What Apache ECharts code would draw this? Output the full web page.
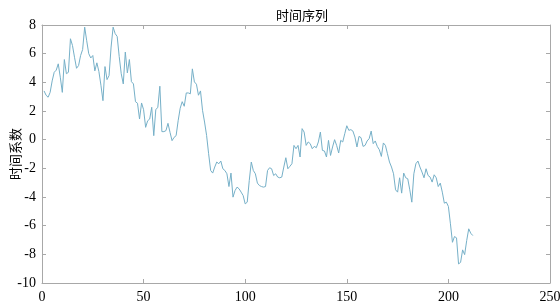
<!DOCTYPE html>
<html>
<head>
<meta charset="utf-8">
<script src="https://cdn.jsdelivr.net/npm/echarts@6/dist/echarts.min.js"></script>
<style>
  html, body { margin: 0; padding: 0; background: #fff; }
  #main { width: 560px; height: 306px; }
</style>
</head>
<body>
<div id="main"></div>
<script>
// time coefficient, sample 1..212
const coefA = [
  3.4, 3.1, 2.96, 3.3, 4.1, 4.7, 4.85, 5.29, 4.36, 3.3,
  5.59, 4.6, 4.7, 7.04, 6.57, 5.75, 4.98, 5.17, 5.87, 6.29,
  7.85, 6.9, 6.0, 5.7, 5.87, 4.8, 5.36, 4.75, 3.8, 2.72,
  5.1, 4.19, 4.47, 6.46, 7.85, 7.4, 7.2, 5.8, 4.6, 3.89,
  6.11, 4.66, 5.59, 4.05, 3.89, 2.65, 2.54, 1.44, 2.56, 2.09,
  0.86, 1.32, 1.44, 2.26, 0.28, 2.09, 2.26, 3.73, 0.56, 0.56,
  0.63, 1.14, 0.51, -0.07, 0.16, 0.28, 1.32, 2.19, 2.65, 2.33,
  3.26, 3.26, 3.2, 4.94
];
const coefB = [
  4.03, 3.87, 3.1, 3.4, 2.05, 1.23, 0.3, -0.98, -2.15, -2.33,
  -1.91, -1.56, -1.68, -1.49, -2.03, -2.15, -2.38, -3.27, -2.33, -4.01,
  -3.55, -3.31, -3.43, -3.66, -3.9, -4.48, -4.36, -2.85, -1.56, -2.15,
  -2.38, -3.03, -3.2, -3.27, -3.31, -3.27, -2.15, -1.96, -2.03, -2.5,
  -2.38, -2.61, -2.66, -2.61, -1.91, -1.26, -2.03, -1.86, -1.68, -0.4,
  -0.63, -0.4, -1.21, 0.77, 0.53, -0.4, -0.16, -0.28, -0.63, -0.47,
  -0.56, -0.16, 0.53, -0.75, -0.79, -1.21, -0.05, -1.1, -0.51, 0.0
];
const coefC = [
  -0.4, -0.93, -0.05, -0.16, 0.42, 0.97, 0.65, 0.7, 0.6, 0.18,
  -0.51, 0.23, 0.14, -0.47, -0.4, -0.09, 0.07, 0.6, -0.28, -0.09,
  -0.47, -0.7, -1.17, -0.23, -0.4, -0.98, -1.56, -1.91, -2.38, -3.5,
  -3.66, -2.66, -3.73, -2.33, -2.66, -2.73, -3.5, -4.36, -2.38, -1.68,
  -1.49, -1.91, -2.26, -2.66, -2.03, -2.5, -2.61, -2.96, -2.45, -2.66,
  -3.27, -3.03, -3.66, -4.43, -4.36, -4.66, -5.87, -7.16, -6.76, -6.85,
  -8.67, -8.56, -7.69, -8.02, -7.04, -6.22, -6.53, -6.69
];
const coef = coefA.concat(coefB, coefC);
const xTicks = [0, 50, 100, 150, 200, 250];
const yTicks = [-10, -8, -6, -4, -2, 0, 2, 4, 6, 8];

const chart = echarts.init(document.getElementById('main'));
const frame = '#a8a8a8';
const labelFont = { fontFamily: 'Liberation Serif', fontSize: 14, color: '#000' };

const baseX = {
  type: 'value',
  min: xTicks[0],
  max: xTicks[xTicks.length - 1],
  interval: 50,
  axisLine: { show: true, onZero: false, lineStyle: { color: frame, width: 1 } },
  axisTick: { show: true, inside: true, length: 4, lineStyle: { color: frame } },
  splitLine: { show: false }
};
const baseY = {
  type: 'value',
  min: yTicks[0],
  max: yTicks[yTicks.length - 1],
  interval: 2,
  axisLine: { show: true, onZero: false, lineStyle: { color: frame, width: 1 } },
  axisTick: { show: true, inside: true, length: 4, lineStyle: { color: frame } },
  splitLine: { show: false }
};

chart.setOption({
  animation: false,
  backgroundColor: '#fff',
  title: {
    text: '时间序列',
    left: 297,
    textAlign: 'center',
    top: 4,
    textStyle: { fontFamily: 'Noto Sans CJK SC', fontSize: 13, fontWeight: 'normal', color: '#000' }
  },
  grid: { left: 42, right: 10, top: 25, bottom: 23, outerBoundsMode: 'none' },
  xAxis: [
    Object.assign({}, baseX, {
      position: 'bottom',
      axisLabel: Object.assign({ margin: 7 }, labelFont)
    }),
    Object.assign({}, baseX, { position: 'top', axisLabel: { show: false } })
  ],
  yAxis: [
    Object.assign({}, baseY, {
      position: 'left',
      name: '时间系数',
      nameLocation: 'middle',
      nameGap: 20,
      nameMoveOverlap: false,
      nameTextStyle: { fontFamily: 'Noto Sans CJK SC', fontSize: 13, color: '#000' },
      axisLabel: Object.assign({ margin: 6 }, labelFont)
    }),
    Object.assign({}, baseY, { position: 'right', axisLabel: { show: false } })
  ],
  series: [{
    type: 'line',
    data: coef.map((v, i) => [i + 1, v]),
    showSymbol: false,
    lineStyle: { color: '#76b0c8', width: 1 },
    itemStyle: { color: '#76b0c8' }
  }]
});
</script>
</body>
</html>
